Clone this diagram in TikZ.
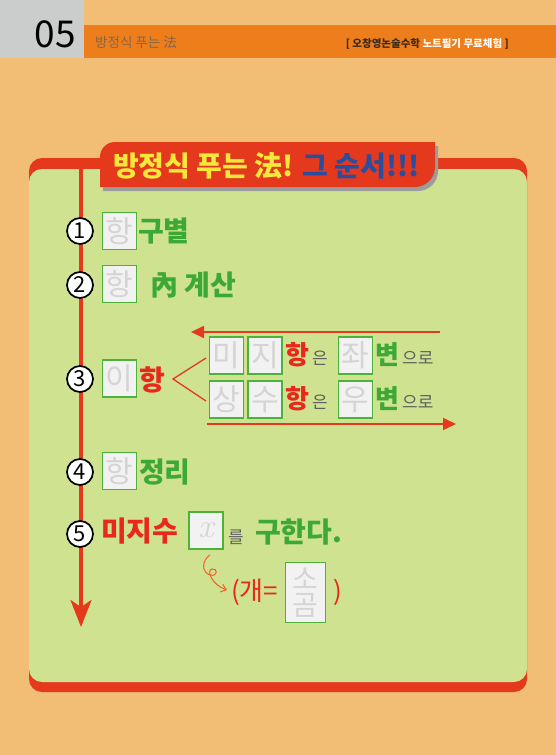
\documentclass[tikz,border=0pt]{standalone}
\usepackage{fontspec}
\setmainfont{Noto Sans CJK KR}
\newfontfamily\lmr{Latin Modern Roman}
\usetikzlibrary{arrows.meta}
\definecolor{peach}{HTML}{F2BD75}
\definecolor{hdgray}{HTML}{CBCCCC}
\definecolor{hdorange}{HTML}{EE7D1C}
\definecolor{hdtext}{HTML}{84664A}
\definecolor{hddark}{HTML}{3A2A1A}
\definecolor{pred}{HTML}{E5391D}
\definecolor{pgreen}{HTML}{CFE290}
\definecolor{tyellow}{HTML}{F5E83A}
\definecolor{tblue}{HTML}{2B4D9E}
\definecolor{shadowg}{HTML}{9C9C9C}
\definecolor{bgreen}{HTML}{4DB23A}
\definecolor{bfill}{HTML}{F2F2F2}
\definecolor{btext}{HTML}{D4D4D4}
\definecolor{tgreen}{HTML}{3DA935}
\definecolor{tred}{HTML}{E8281C}
\definecolor{tgray}{HTML}{5E5E5E}
\definecolor{curlc}{HTML}{F0602A}
\tikzset{
  circnum/.style={circle, draw=black, fill=white, line width=1.7pt, minimum size=26pt, inner sep=0pt, font=\fontsize{22}{22}\selectfont},
  gbox/.style={draw=bgreen, line width=1.6pt, fill=bfill, minimum width=34pt, minimum height=37pt, inner sep=0pt, text=btext, font=\fontsize{30}{30}\selectfont},
  big/.style={anchor=west, inner sep=0pt, font=\bfseries\fontsize{28}{28}\selectfont},
  mid/.style={anchor=west, inner sep=0pt, font=\bfseries\fontsize{26}{26}\selectfont},
  small/.style={anchor=west, inner sep=0pt, text=tgray, font=\fontsize{17}{17}\selectfont},
  hline/.style={pred, line width=1.7pt, -{Triangle[length=13pt,width=12pt]}},
}
\begin{document}
\begin{tikzpicture}[x=1pt,y=-1pt]
\useasboundingbox (0,0) rectangle (556,755);
\fill[peach] (0,0) rectangle (556,755);
% header
\fill[hdgray] (0,0) rectangle (84,58);
\fill[hdorange] (84,25) rectangle (556,58);
\node[anchor=base east, inner sep=0pt, font=\fontsize{37}{37}\selectfont] (num) at (76,47) {05};
\node[anchor=base west, inner sep=0pt, text=hdtext, font=\fontsize{13.5}{14}\selectfont] (htitle) at (95,47) {방정식 푸는 法};
\node[anchor=base east, inner sep=0pt, font=\bfseries\fontsize{10.5}{11}\selectfont] (hright) at (509,47) {\color{hddark}[ 오창영논술수학 \color{white}노트필기 무료체험 \color{hddark}]};
% panel
\fill[pred, rounded corners=13pt] (29,158) rectangle (527,692);
\fill[pgreen, rounded corners=13pt] (29,169) rectangle (527,682);
% title tab
\fill[shadowg] (103,191) -- (103,161) .. controls (103,152.7) and (109.7,146) .. (118,146) -- (438,146) -- (438,171) .. controls (438,182) and (429,191) .. (418,191) -- cycle;
\fill[pred] (100,187) -- (100,157) .. controls (100,148.7) and (106.7,142) .. (115,142) -- (435,142) -- (435,167) .. controls (435,178) and (426,187) .. (415,187) -- cycle;
\node[anchor=base west, inner sep=0pt, font=\bfseries\fontsize{28}{28}\selectfont] (title) at (113,176) {\color{tyellow}방정식 푸는 法! \color{tblue}그 순서!!!};
% vertical arrow
\coordinate (vtop) at (81,169);
\coordinate (vbot) at (81,627);
\draw[pred, line width=3.2pt, -{Stealth[length=27pt,width=21pt,inset=7pt]}] (vtop) -- (vbot);
% step 1
\node[circnum] (n1) at (80,231) {1};
\node[gbox] (b1) at (119.5,231) {항};
\node[big, text=tgreen] (t1) at (138,231) {구별};
% step 2
\node[circnum] (n2) at (80,285) {2};
\node[gbox] (b2) at (119.5,284) {항};
\node[big, text=tgreen] (t2) at (150,285) {內 계산};
% step 3
\node[circnum] (n3) at (80,379) {3};
\node[gbox] (b3) at (119.5,378.5) {이};
\node[big, text=tred] (t3) at (139,380) {항};
\coordinate (fork) at (173,379);
\coordinate (forkup) at (206,358);
\coordinate (forkdn) at (206,401);
\draw[pred, line width=1.3pt] (forkup) -- (fork) -- (forkdn);
\node[gbox] (b31) at (226.5,355.5) {미};
\node[gbox] (b32) at (265,355.5) {지};
\node[mid, text=tred] (t31) at (285,355) {항};
\node[small] (t32) at (312,358) {은};
\node[gbox] (b33) at (355.5,355.5) {좌};
\node[mid, text=tgreen] (t33) at (375,355) {변};
\node[small] (t34) at (402,358) {으로};
\node[gbox] (b34) at (226.5,399.5) {상};
\node[gbox] (b35) at (265,399.5) {수};
\node[mid, text=tred] (t35) at (285,399) {항};
\node[small] (t36) at (312,402) {은};
\node[gbox] (b36) at (355.5,399.5) {우};
\node[mid, text=tgreen] (t37) at (375,399) {변};
\node[small] (t38) at (402,402) {으로};
\coordinate (a1s) at (440,332);
\coordinate (a1e) at (191,332);
\coordinate (a2s) at (207,424);
\coordinate (a2e) at (456,424);
\draw[hline] (a1s) -- (a1e);
\draw[hline] (a2s) -- (a2e);
% step 4
\node[circnum] (n4) at (80,472) {4};
\node[gbox] (b4) at (119.5,471) {항};
\node[big, text=tgreen] (t4) at (139,472) {정리};
% step 5
\node[circnum] (n5) at (80,534) {5};
\node[big, text=tred] (t5) at (101,531) {미지수};
\node[gbox, font=\lmr\itshape\fontsize{34}{34}\selectfont] (bx) at (206,530.5) {x};
\node[small] (t6) at (228,537) {를};
\node[big, text=tgreen] (t7) at (255,532) {구한다.};
\coordinate (cs) at (210,555);
\coordinate (ce) at (227,590);
\draw[curlc, line width=1pt, -{Straight Barb[length=5pt,width=8pt]}] (cs) .. controls (202,560) and (201,572) .. (210,575) .. controls (218,577) and (218,568) .. (212,569) .. controls (206,570) and (212,585) .. (ce);
\node[anchor=west, inner sep=0pt, text=tred, font=\fontsize{26}{26}\selectfont] (t8) at (231,592) {(개=};
\node[gbox, minimum width=40pt, minimum height=60pt, font=\fontsize{28}{29}\selectfont, align=center] (bsg) at (305.5,592.5) {소\\[-3pt]곰};
\node[anchor=west, inner sep=0pt, text=tred, font=\fontsize{26}{26}\selectfont] (t9) at (333,592) {)};
\end{tikzpicture}
\end{document}
